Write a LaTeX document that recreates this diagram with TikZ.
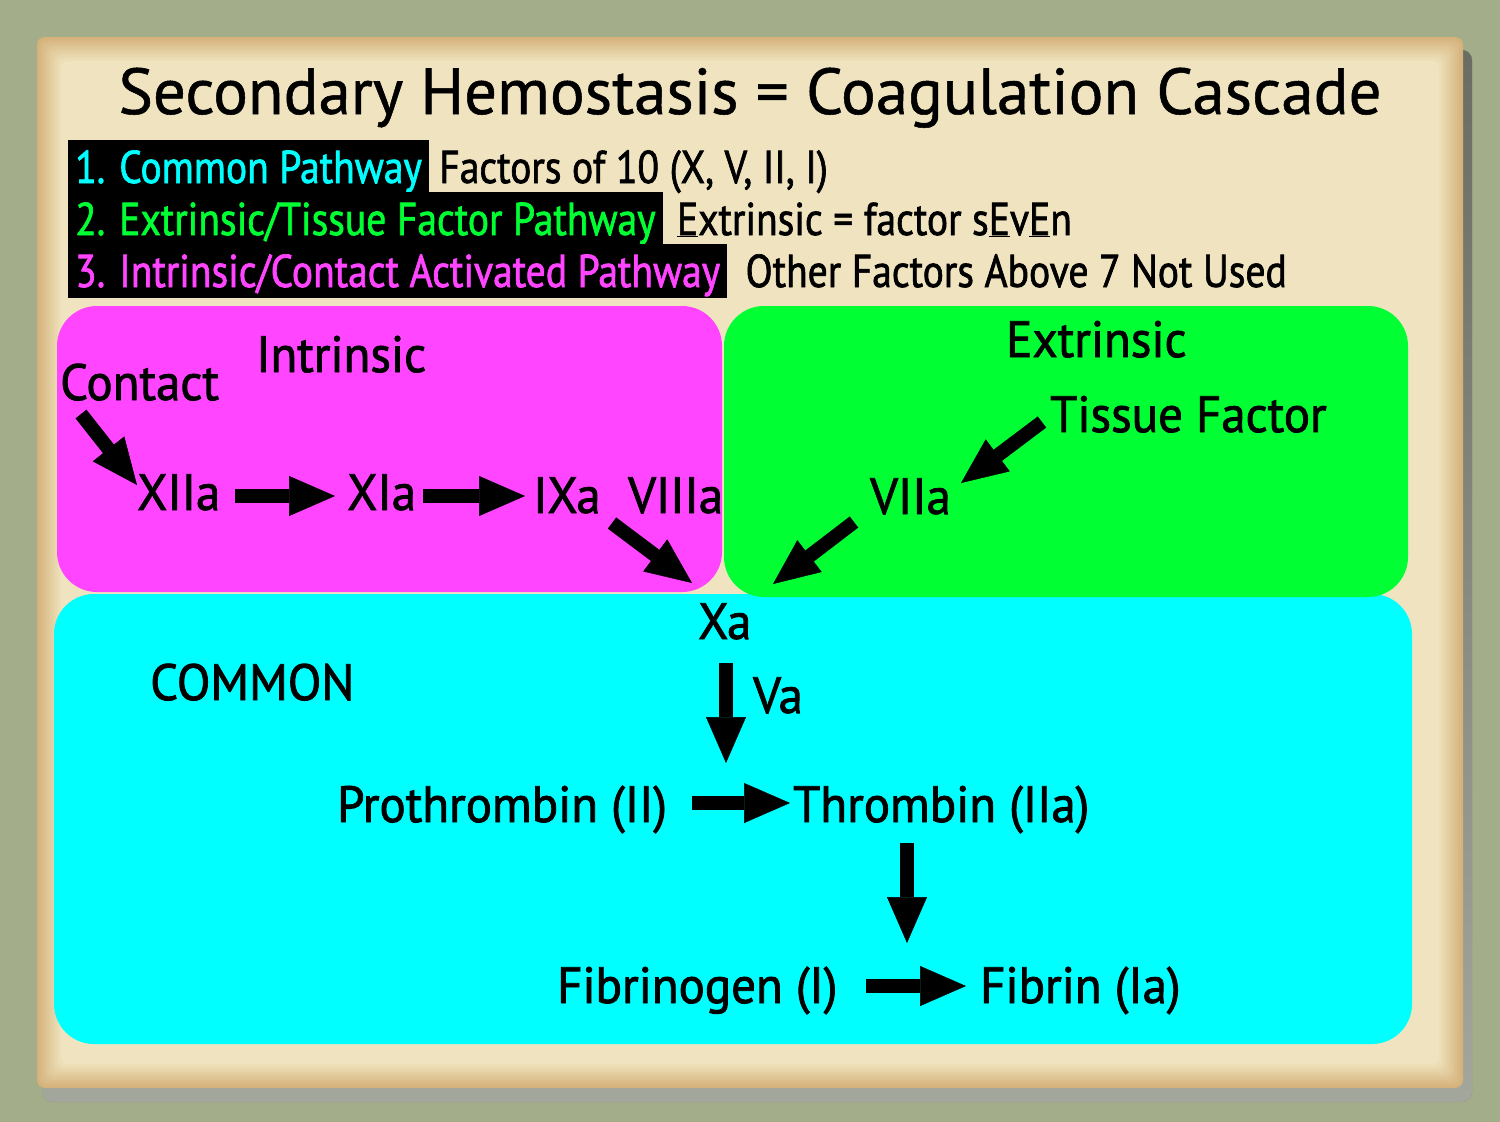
\documentclass[tikz,border=0pt]{standalone}
\usepackage{fontspec}
\setmainfont{PT Sans}[FakeBold=0.8]
\newfontfamily\dinfont[FakeStretch=0.96,FakeBold=1.6]{PT Sans}
\newfontfamily\keyfont[FakeStretch=0.86,FakeBold=1.4]{PT Sans}
\usetikzlibrary{arrows.meta,calc,positioning}
\definecolor{canvas}{HTML}{A3AD89}
\definecolor{shade}{HTML}{737B5A}
\definecolor{paper}{HTML}{EFE4BF}
\definecolor{paperedge}{HTML}{D6B27B}
\definecolor{cyanbox}{HTML}{00FFFF}
\definecolor{greenbox}{HTML}{00FF33}
\definecolor{magbox}{HTML}{FF45FF}

\begin{document}
\begin{tikzpicture}[x=1pt,y=-1pt,
    lbl/.style={inner sep=0pt,anchor=base west,font=\dinfont\fontsize{51}{60}\selectfont},
    hdr/.style={inner xsep=7pt,inner ysep=0pt,anchor=base west,fill=black,text height=43pt,text depth=9pt,font=\keyfont\fontsize{46}{54}\selectfont},
    note/.style={inner sep=0pt,font=\keyfont\fontsize{46}{54}\selectfont},
    blockarrow/.style={line width=14pt,-{Triangle[length=46pt,width=40pt,line width=0.5pt]}}]
  % canvas and paper
  \fill[canvas] (0,0) rectangle (1500,1122);
  \useasboundingbox (0,0) rectangle (1500,1122);
  \fill[shade,opacity=0.45,rounded corners=10pt] (42,50) rectangle (1472,1102);
  \fill[paperedge,rounded corners=8pt] (37,37) rectangle (1463,1088);
  \foreach \i [evaluate=\i as \p using 100*\i/12] in {1,...,12}
    \fill[paper!\p!paperedge,rounded corners=8pt] (37+2*\i,37+2*\i) rectangle (1463-2*\i,1088-2*\i);

  % pathway regions
  \fill[cyanbox,rounded corners=40pt] (54,594) rectangle (1412,1044);
  \fill[magbox,rounded corners=40pt] (57,306) rectangle (722,592);
  \fill[greenbox,rounded corners=40pt] (724,306) rectangle (1408,597);

  % title and key
  \node[inner sep=0pt,anchor=base,font=\fontsize{65}{78}\selectfont] (title) at (750,114) {Secondary Hemostasis = Coagulation Cascade};
  \node[hdr,text=cyanbox] (com) at (68,183) {1. Common Pathway};
  \node[hdr,text=greenbox] (ext) at (68,235) {2. Extrinsic/Tissue Factor Pathway};
  \node[hdr,text=magbox,text depth=11pt] (int) at (68,287) {3. Intrinsic/Contact Activated Pathway};
  \node[note,base right=10pt of com] (comnote) {Factors of 10 (X, V, II, I)};
  \node[note,base right=14pt of ext] (extnote) {\underline{E}xtrinsic = factor s\underline{E}v\underline{E}n};
  \node[note,base right=18pt of int] (intnote) {Other Factors Above 7 Not Used};

  % intrinsic
  \node[lbl] (intr) at (256,372) {Intrinsic};
  \node[lbl] (contact) at (60,400) {Contact};
  \node[lbl] (xiia) at (137,510) {XIIa};
  \node[lbl] (xia) at (347,510) {XIa};
  \node[lbl] (ixa) at (533,513) {IXa};
  \node[lbl] (viiia) at (628,513) {VIIIa};

  % extrinsic
  \node[lbl] (extr) at (1006,357) {Extrinsic};
  \node[lbl] (tissue) at (1050,432) {Tissue Factor};
  \node[lbl] (viia) at (870,514) {VIIa};

  % common
  \node[lbl] (xa) at (698,639) {Xa};
  \node[lbl] (common) at (150,700) {COMMON};
  \node[lbl] (va) at (753,713) {Va};
  \node[lbl] (pro) at (337,822) {Prothrombin (II)};
  \node[lbl] (thr) at (793,822) {Thrombin (IIa)};
  \node[lbl] (fibg) at (557,1003) {Fibrinogen (I)};
  \node[lbl] (fib) at (980,1003) {Fibrin (Ia)};

  \draw[blockarrow] ($(contact.base west)+(21,14)$) -- ($(xiia.base west)+(0,-25)$);
  \draw[blockarrow] ($(xiia.base west)+(98,-14)$) -- ($(xia.base west)+(-12,-14)$);
  \draw[blockarrow] ($(xia.base west)+(76,-14)$) -- ($(ixa.base west)+(-8,-17)$);
  \draw[blockarrow] ($(viiia.base west)+(-16,10)$) -- ($(xa.base west)+(-6,-56)$);
  \draw[blockarrow] ($(tissue.base west)+(-8,-10)$) -- ($(viia.base west)+(91,-31)$);
  \draw[blockarrow] ($(viia.base west)+(-16,8)$) -- ($(xa.base west)+(75,-55)$);
  \draw[blockarrow] ($(xa.base west)+(28,24)$) -- ($(thr.base west)+(-67,-59)$);
  \draw[blockarrow] ($(pro.base west)+(355,-19)$) -- ($(thr.base west)+(-3,-19)$);
  \draw[blockarrow] ($(thr.base west)+(114,21)$) -- ($(fib.base west)+(-73,-60)$);
  \draw[blockarrow] ($(fibg.base west)+(309,-17)$) -- ($(fib.base west)+(-14,-17)$);
\end{tikzpicture}
\end{document}
